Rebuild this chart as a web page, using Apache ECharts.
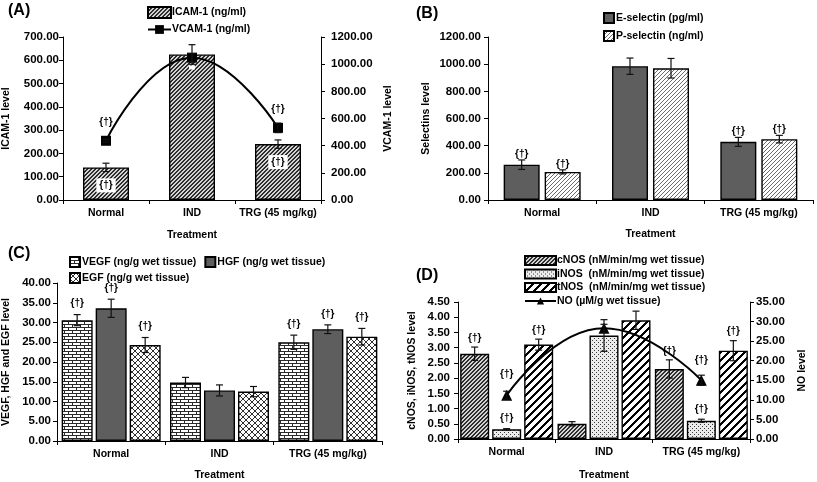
<!DOCTYPE html>
<html><head><meta charset="utf-8">
<script src="https://cdn.jsdelivr.net/npm/echarts@6/dist/echarts.min.js"></script>
<style>html,body{margin:0;padding:0;background:#fff}#c{width:817px;height:482px}</style>
</head><body><div id="c"></div>
<script>
// ---------- DATA ----------
const categories = ['Normal', 'IND', 'TRG (45 mg/kg)'];
// Panel A
const icam = [140, 625, 240];
const icamErr = [18, 42, 18];
const vcam = [436, 1048, 531];
const vcamErr = [10, 30, 35];
const icamSig = [1, 0, 1];
const vcamSig = [1, 0, 1];
// Panel B
const eSel = [260, 985, 428];
const eSelErr = [35, 60, 33];
const pSel = [207, 970, 448];
const pSelErr = [15, 72, 28];
const eSelSig = [1, 0, 1];
const pSelSig = [1, 0, 1];
// Panel C
const vegf = [30.6, 14.8, 25.0];
const vegfErr = [1.4, 1.3, 1.8];
const hgf = [33.6, 12.8, 28.3];
const hgfErr = [2.3, 1.4, 1.1];
const egf = [24.3, 12.5, 26.4];
const egfErr = [1.9, 1.3, 2.1];
const vegfSig = [1, 0, 1];
const hgfSig = [1, 0, 1];
const egfSig = [1, 0, 1];
// Panel D
const cnos = [2.80, 0.50, 2.30];
const cnosErr = [0.22, 0.07, 0.30];
const inos = [0.32, 3.40, 0.60];
const inosErr = [0.02, 0.52, 0.05];
const tnos = [3.10, 3.90, 2.90];
const tnosErr = [0.18, 0.30, 0.33];
const no = [11.2, 28.3, 15.0];
const noErr = [1.0, 1.0, 1.3];
const cnosSig = [1, 0, 1];
const inosSig = [1, 0, 1];
const tnosSig = [1, 0, 1];
const noSig = [1, 0, 1];
// Axis ranges
const aLeftAxis = [0, 700, 100];
const aRightAxis = [0, 1200, 200];
const bAxis = [0, 1200, 200];
const cAxis = [0, 40, 5];
const dLeftAxis = [0, 4.5, 0.5];
const dRightAxis = [0, 35, 5];

// ---------- STYLE HELPERS ----------
const FONT = '"Liberation Sans", Arial, sans-serif';
function pat(w, h, bg, fg, draw) {
  const c = document.createElement('canvas'); c.width = w; c.height = h;
  const g = c.getContext('2d'); g.fillStyle = bg; g.fillRect(0, 0, w, h);
  g.fillStyle = fg; draw(g); return { image: c, repeat: 'repeat' };
}
const denseDiag = pat(4, 4, '#d4d4d4', '#2e2e2e', g => { for (let k = 0; k < 4; k++) { g.fillRect(k, 3 - k, 1, 1); g.fillRect((k + 1) % 4, 3 - k, 1, 1); } });
const lightDiag = pat(4, 4, '#ffffff', '#6a6a6a', g => { for (let k = 0; k < 4; k++) g.fillRect(k, 3 - k, 1, 1); });
const wideDiag = pat(8, 8, '#ffffff', '#000000', g => { for (let k = 0; k < 8; k++) { g.fillRect(k, 7 - k, 1, 1); g.fillRect((k + 1) % 8, 7 - k, 1, 1); g.fillRect((k + 2) % 8, 7 - k, 1, 1); } });
const dots = pat(4, 4, '#ececec', '#3a3a3a', g => { g.fillRect(0, 0, 1, 1); g.fillRect(2, 2, 1, 1); });
const brick = pat(8, 6, '#ffffff', '#2a2a2a', g => { g.fillRect(0, 0, 8, 1); g.fillRect(0, 3, 8, 1); g.fillRect(0, 1, 1, 2); g.fillRect(4, 4, 1, 2); });
const diamond = pat(6, 6, '#ffffff', '#2f2f2f', g => { for (let k = 0; k < 6; k++) { g.fillRect(k, k, 1, 1); g.fillRect(k, 5 - k, 1, 1); } });
const solidGray = '#5e5e5e';

const txt = { color: '#000', fontWeight: 'bold', fontFamily: FONT };
const fmt2 = v => v.toFixed(2);

function catAxis(gridIndex, nameGap) {
  return {
    type: 'category', gridIndex, data: categories,
    name: 'Treatment', nameLocation: 'middle', nameGap,
    nameTextStyle: { ...txt, fontSize: 10.5 },
    axisLine: { lineStyle: { color: '#000', width: 1 } },
    axisTick: { show: true, length: 4, lineStyle: { color: '#000' } },
    axisLabel: { ...txt, fontSize: 10.5, margin: 8, interval: 0, hideOverlap: false },
    splitLine: { show: false }
  };
}
function valAxis(gridIndex, range, name, nameGap, position, margin) {
  return {
    type: 'value', gridIndex, min: range[0], max: range[1], interval: range[2], position,
    name, nameLocation: 'middle', nameGap, nameRotate: 90,
    nameTextStyle: { ...txt, fontSize: 10.5 },
    axisLine: { show: true, lineStyle: { color: '#000', width: 1 } },
    axisTick: { show: true, length: 4, lineStyle: { color: '#000' } },
    axisLabel: { ...txt, fontSize: 11.5, margin, formatter: fmt2 },
    splitLine: { show: false }
  };
}
const barBorder = { borderColor: '#000', borderWidth: 1.4 };
function bar(name, xi, yi, data, color, bw, gapPct, extra) {
  return Object.assign({
    type: 'bar', name, xAxisIndex: xi, yAxisIndex: yi, data,
    barWidth: bw, barGap: gapPct, itemStyle: { color, ...barBorder }, z: 2,
    emphasis: { disabled: true }
  }, extra || {});
}
function errBars(name, xi, yi, vals, errs, offset, sig, gap) {
  return {
    type: 'custom', name, xAxisIndex: xi, yAxisIndex: yi, z: 6, silent: true,
    data: vals.map((v, i) => [i, v, errs[i], sig ? sig[i] : 0]),
    renderItem(params, api) {
      const i = api.value(0), v = api.value(1), e = api.value(2), s = api.value(3);
      const c = api.coord([i, v]), t = api.coord([i, v + e]), b = api.coord([i, v - e]);
      const x = c[0] + offset, cap = 3.5;
      const st = { stroke: '#111', lineWidth: 1.2 };
      const ch = [
        { type: 'line', shape: { x1: x, y1: b[1], x2: x, y2: t[1] }, style: st },
        { type: 'line', shape: { x1: x - cap, y1: t[1], x2: x + cap, y2: t[1] }, style: st },
        { type: 'line', shape: { x1: x - cap, y1: b[1], x2: x + cap, y2: b[1] }, style: st }
      ];
      if (s) ch.push({ type: 'text', x, y: t[1] - gap, style: { text: '{\u2020}', fill: '#000', font: 'bold 10px ' + FONT, align: 'center', verticalAlign: 'bottom' } });
      return { type: 'group', children: ch };
    }
  };
}
const sigLabel = arr => (p => arr[p.dataIndex] ? '{\u2020}' : '');
const R = n => ({ name: n, icon: 'rect' });

// bar layout constants (px)
const bwA = 46;
const bwB = 36, gB = 5;
const bwC = 31, gC = 3;
const bwD = 29, gD = 3;
const offs = (n, bw, g) => Array.from({ length: n }, (_, k) => -((n * bw + (n - 1) * g) / 2) + k * (bw + g) + bw / 2);
const oB = offs(2, bwB, gB), oC = offs(3, bwC, gC), oD = offs(3, bwD, gD);

const option = {
  animation: false,
  backgroundColor: '#fff',
  textStyle: { fontFamily: FONT },
  title: [
    { text: '(A)', left: 3, top: -2, textStyle: { ...txt, fontSize: 16 } },
    { text: '(B)', left: 411, top: 1, textStyle: { ...txt, fontSize: 16 } },
    { text: '(C)', left: 3, top: 241, textStyle: { ...txt, fontSize: 16 } },
    { text: '(D)', left: 411, top: 263, textStyle: { ...txt, fontSize: 16 } }
  ],
  legend: [
    { data: [R('ICAM-1 (ng/ml)'), 'VCAM-1 (ng/ml)'], orient: 'vertical', left: 142, top: 1, itemWidth: 23, itemHeight: 11, itemGap: 5, textStyle: { ...txt, fontSize: 10.5, padding: [0, 0, 0, -4] }, selectedMode: false },
    { data: [R('E-selectin (pg/ml)'), R('P-selectin (ng/ml)')], orient: 'vertical', left: 598, top: 7, itemWidth: 10, itemHeight: 10, itemGap: 6, textStyle: { ...txt, fontSize: 10.5, padding: [0, 0, 0, -3] }, selectedMode: false },
    { data: [R('VEGF (ng/g wet tissue)'), R('HGF (ng/g wet tissue)')], orient: 'horizontal', left: 64, top: 251, itemWidth: 10, itemHeight: 10, itemGap: 8, textStyle: { ...txt, fontSize: 10.5, padding: [0, 0, 0, -3] }, selectedMode: false },
    { data: [R('EGF (ng/g wet tissue)')], orient: 'horizontal', left: 64, top: 267, itemWidth: 10, itemHeight: 10, textStyle: { ...txt, fontSize: 10.5, padding: [0, 0, 0, -3] }, selectedMode: false },
    { data: [R('cNOS (nM/min/mg wet tissue)'), R('iNOS  (nM/min/mg wet tissue)'), R('tNOS  (nM/min/mg wet tissue)'), 'NO (\u00b5M/g wet tissue)'], orient: 'vertical', left: 519, top: 250, itemWidth: 31, itemHeight: 9, itemGap: 2.5, textStyle: { ...txt, fontSize: 10.5, padding: [0, 0, 0, -4] }, selectedMode: false }
  ],
  grid: [
    { left: 60, top: 37, width: 261, height: 163 },
    { left: 488, top: 37, width: 325, height: 163 },
    { left: 53, top: 283, width: 329, height: 163 },
    { left: 458, top: 302, width: 292, height: 144 }
  ],
  xAxis: [catAxis(0, 30), catAxis(1, 29), catAxis(2, 29), catAxis(3, 31)],
  yAxis: [
    valAxis(0, aLeftAxis, 'ICAM-1 level', 51, 'left', 4),
    valAxis(0, aRightAxis, 'VCAM-1 level', 62, 'right', 10),
    valAxis(1, bAxis, 'Selectins level', 56, 'left', 7),
    valAxis(2, cAxis, 'VEGF, HGF and EGF level', 45, 'left', 6),
    valAxis(3, dLeftAxis, 'cNOS, iNOS, tNOS level', 40, 'left', 8),
    valAxis(3, dRightAxis, 'NO level', 47, 'right', 6)
  ],
  series: [
    // A
    bar('ICAM-1 (ng/ml)', 0, 0, icam, denseDiag, bwA, '0%', {
      label: { show: true, position: 'insideTop', distance: 11, formatter: sigLabel(icamSig), ...txt, fontSize: 10, backgroundColor: '#fff', padding: [2, 3] }
    }),
    errBars('icamErr', 0, 0, icam, icamErr, 0, null, 0),
    { type: 'line', name: 'VCAM-1 (ng/ml)', xAxisIndex: 0, yAxisIndex: 1, data: vcam, smooth: true, z: 5,
      symbol: 'rect', symbolSize: 10, lineStyle: { color: '#000', width: 2 }, itemStyle: { color: '#000' },
      label: { show: true, position: 'top', distance: 9, formatter: sigLabel(vcamSig), ...txt, fontSize: 10 } },
    errBars('vcamErr', 0, 1, vcam, vcamErr, 0, null, 0),
    // B
    bar('E-selectin (pg/ml)', 1, 2, eSel, solidGray, bwB, (gB / bwB * 100) + '%'),
    bar('P-selectin (ng/ml)', 1, 2, pSel, lightDiag, bwB, (gB / bwB * 100) + '%'),
    errBars('eErr', 1, 2, eSel, eSelErr, oB[0], eSelSig, 1),
    errBars('pErr', 1, 2, pSel, pSelErr, oB[1], pSelSig, 1),
    // C
    bar('VEGF (ng/g wet tissue)', 2, 3, vegf, brick, bwC, (gC / bwC * 100) + '%'),
    bar('HGF (ng/g wet tissue)', 2, 3, hgf, solidGray, bwC, (gC / bwC * 100) + '%'),
    bar('EGF (ng/g wet tissue)', 2, 3, egf, diamond, bwC, (gC / bwC * 100) + '%'),
    errBars('vErr', 2, 3, vegf, vegfErr, oC[0], vegfSig, 6),
    errBars('hErr', 2, 3, hgf, hgfErr, oC[1], hgfSig, 6),
    errBars('gErr', 2, 3, egf, egfErr, oC[2], egfSig, 6),
    // D
    bar('cNOS (nM/min/mg wet tissue)', 3, 4, cnos, denseDiag, bwD, (gD / bwD * 100) + '%'),
    bar('iNOS  (nM/min/mg wet tissue)', 3, 4, inos, dots, bwD, (gD / bwD * 100) + '%'),
    bar('tNOS  (nM/min/mg wet tissue)', 3, 4, tnos, wideDiag, bwD, (gD / bwD * 100) + '%'),
    errBars('cErr', 3, 4, cnos, cnosErr, oD[0], cnosSig, 4),
    errBars('iErr', 3, 4, inos, inosErr, oD[1], inosSig, 5),
    errBars('tErr', 3, 4, tnos, tnosErr, oD[2], tnosSig, 4),
    { type: 'line', name: 'NO (\u00b5M/g wet tissue)', xAxisIndex: 3, yAxisIndex: 5, data: no, smooth: true, z: 5,
      symbol: 'triangle', symbolSize: 11, lineStyle: { color: '#000', width: 2 }, itemStyle: { color: '#000' },
      label: { show: true, position: 'top', distance: 10, formatter: sigLabel(noSig), ...txt, fontSize: 10 } },
    errBars('noErr', 3, 5, no, noErr, 0, null, 0)
  ]
};
const chart = echarts.init(document.getElementById('c'), null, { renderer: 'canvas' });
chart.setOption(option);
</script>
</body></html>
